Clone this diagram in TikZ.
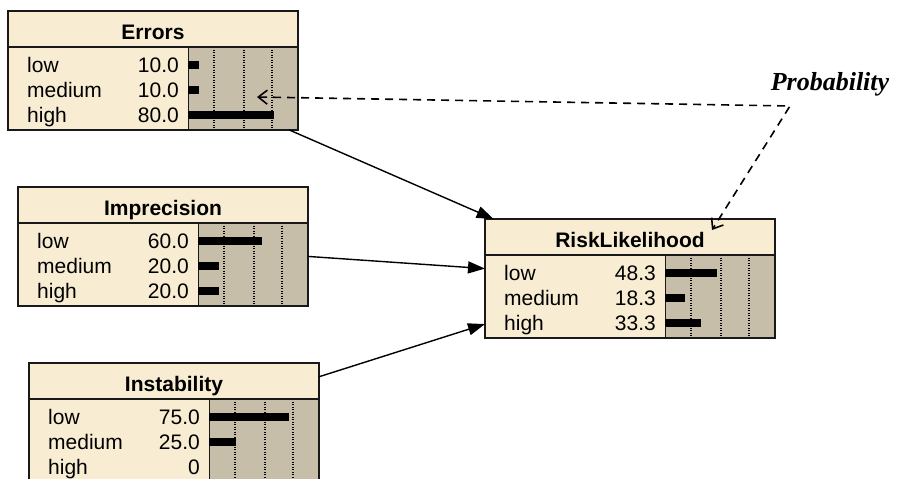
\documentclass[tikz,border=0pt]{standalone}
\usepackage{fontspec}
\setmainfont{Liberation Sans}
\newfontfamily\probfont{Liberation Serif}
\usetikzlibrary{arrows.meta}
\definecolor{cream}{RGB}{248,237,211}
\definecolor{panel}{RGB}{199,190,170}
\definecolor{edge}{RGB}{25,25,25}
\tikzset{
 boxfill/.style={fill=cream, draw=none, inner sep=0pt, outer sep=0pt, minimum width=290pt, minimum height=119pt, anchor=north west},
 boxline/.style={draw=edge, line width=1.5pt},
 gridline/.style={draw=black, line width=1.2pt, dash pattern=on 1.2pt off 1.3pt},
 bar/.style={fill=black},
 statetext/.style={font=\fontsize{21}{24}\selectfont, inner sep=0pt, anchor=base west},
 valtext/.style={font=\fontsize{21}{24}\selectfont, inner sep=0pt, anchor=base east},
 titletext/.style={font=\fontsize{21}{24}\selectfont\bfseries, inner sep=0pt, anchor=base},
 probtext/.style={font=\fontsize{26}{30}\selectfont\probfont\bfseries\itshape, inner sep=0pt, anchor=base},
 link/.style={draw=black, line width=1.4pt, -{Triangle[length=17pt,width=12pt]}},
 note/.style={draw=black, line width=1.6pt, dash pattern=on 8pt off 6pt, {Straight Barb[length=9pt,width=14pt]}-{Straight Barb[length=9pt,width=14pt]}},
}
\newcommand\bnbox[5]{%
\begin{scope}[shift={(#2,#3)}]
 \node[boxfill] (#1) at (0,0) {};
 \fill[panel] (180,36) rectangle (290,119);
 \draw[edge, line width=1pt] (180,36) -- (180,119);
 \foreach \dx in {26,56,84} \draw[gridline] (180+\dx,36) -- (180+\dx,119);
 \draw[boxline] (0,36) -- (290,36);
 \node[titletext] (#1-title) at (145,28) {#4};
 \foreach \lab/\val/\pct [count=\i] in {#5} {
   \node[statetext] (#1-l\i) at (19,36+25*\i) {\lab};
   \node[valtext] (#1-v\i) at (171,36+25*\i) {\val};
   \ifdim \pct pt>0pt \fill[bar] (180,36+25*\i-11) rectangle ++(1.07*\pct,8); \fi
 }
 \draw[boxline] (0,0) rectangle (290,119);
\end{scope}}
\begin{document}
\begin{tikzpicture}[x=1pt,y=-1pt]
\useasboundingbox (0,0) rectangle (902,479);
\fill[white] (0,0) rectangle (902,479);
\clip (0,0) rectangle (902,479);
\bnbox{errors}{8}{11}{Errors}{low/10.0/10, medium/10.0/10, high/80.0/80}
\bnbox{impr}{18}{187}{Imprecision}{low/60.0/60, medium/20.0/20, high/20.0/20}
\bnbox{instab}{29}{363}{Instability}{low/75.0/75, medium/25.0/25, high/0/0}
\bnbox{risk}{485}{219}{RiskLikelihood}{low/48.3/48.3, medium/18.3/18.3, high/33.3/33.3}
\draw[link] (errors) -- (risk);
\draw[link] (impr) -- (risk);
\draw[link] (instab) -- (risk);
\node[probtext] (prob) at (830,90) {Probability};
\coordinate (corner) at (790,106);
\coordinate (tipE) at (257,97);
\coordinate (tipR) at (712,230);
\draw[note] (tipE) -- (corner) -- (tipR);
\end{tikzpicture}
\end{document}
